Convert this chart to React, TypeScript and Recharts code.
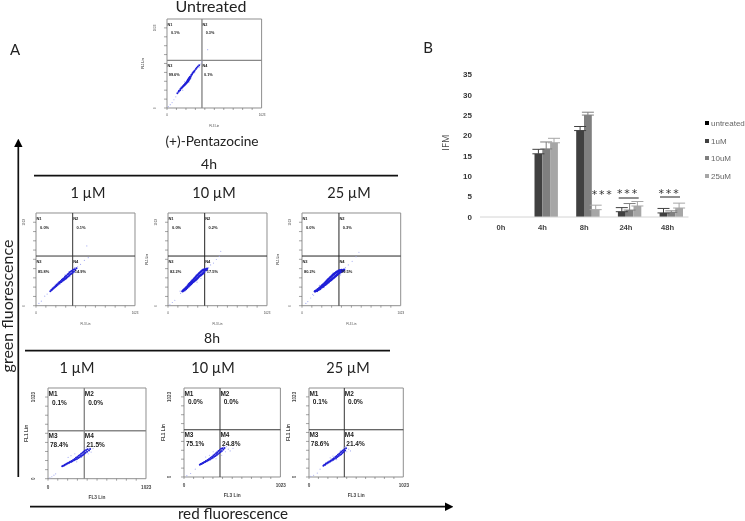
import React from "react";
import {
  BarChart, Bar, XAxis, YAxis, ErrorBar, Legend, ScatterChart, Scatter, ReferenceLine, ReferenceArea, ReferenceDot,
} from "recharts";

type Pt = [number, number];

// ---------- Panel B: bar chart ----------
const timeCategories = ["0h", "4h", "8h", "24h", "48h"];
const untreatedValues = [0, 0, 0, 0, 0];
const uM1Values = [0, 15.5, 21.2, 1.3, 1.0];
const uM10Values = [0, 16.7, 25.0, 1.7, 1.1];
const uM25Values = [0, 18.2, 1.8, 2.7, 2.2];
const uM1Errors = [0, 1.1, 1.0, 1.0, 1.1];
const uM10Errors = [0, 1.7, 0.7, 1.6, 0.4];
const uM25Errors = [0, 1.1, 1.1, 1.1, 1.2];
const yTicks = [0, 5, 10, 15, 20, 25, 30, 35];
const seriesNames = ["untreated", "1uM", "10uM", "25uM"];
const seriesColors = ["#000000", "#404040", "#7f7f7f", "#a6a6a6"];

const barData = timeCategories.map((t, i) => ({
  time: t,
  untreated: untreatedValues[i],
  uM1: uM1Values[i],
  uM10: uM10Values[i],
  uM25: uM25Values[i],
  e1: [0, uM1Errors[i]],
  e10: [0, uM10Errors[i]],
  e25: [0, uM25Errors[i]],
}));

// ---------- Panel A: flow cytometry dots (FL3, FL1) ----------
const untreatedCore: Pt[] = [[112,170],[125,186],[130,198],[142,205],[145,218],[155,226],[160,236],[168,238],[172,250],[180,252],[184,264],[190,262],[194,276],[200,272],[204,288],[210,284],[212,300],[218,296],[220,312],[228,306],[226,326],[236,318],[234,336],[244,330],[240,348],[250,345],[248,360],[258,362],[262,378],[270,384],[276,398],[284,410],[292,420],[300,432],[312,448],[322,462],[334,476],[348,492]];
const untreatedHalo: Pt[] = [[15,15],[35,38],[55,62],[75,95],[95,128],[150,240],[190,300],[170,205],[240,300],[260,345],[300,405],[350,470],[365,505],[375,530],[440,670]];

const h4u1Core: Pt[] = [[148,160],[158,172],[165,176],[172,188],[180,190],[188,202],[195,204],[202,218],[210,216],[216,232],[224,230],[230,246],[238,244],[242,260],[250,256],[256,272],[262,262],[268,286],[274,274],[280,298],[286,282],[292,306],[298,292],[300,318],[310,300],[312,330],[320,312],[326,344],[332,322],[336,352],[344,334],[346,368],[354,346],[360,376],[366,352],[372,386],[378,364],[384,396],[392,374],[398,402],[406,394],[418,414]];
const h4u1Halo: Pt[] = [[30,25],[55,50],[90,105],[115,128],[200,235],[250,240],[300,340],[350,320],[400,420],[430,430],[460,455],[500,500],[540,530],[525,660]];

const h4u10Core: Pt[] = [[150,160],[156,168],[166,178],[170,170],[178,190],[186,184],[190,204],[198,198],[204,220],[212,212],[216,236],[224,226],[228,250],[236,238],[240,264],[248,250],[252,278],[258,262],[264,290],[270,270],[274,304],[282,282],[286,316],[294,292],[296,330],[304,304],[308,342],[316,316],[320,356],[326,328],[332,366],[338,336],[342,378],[350,346],[354,388],[362,358],[366,396],[374,372],[382,402],[392,392],[404,408]];
const h4u10Halo: Pt[] = [[20,10],[45,35],[70,60],[130,135],[125,160],[210,250],[300,260],[340,300],[420,420],[440,450],[470,470],[500,510],[530,545],[545,600]];

const h4u25Core: Pt[] = [[135,158],[148,168],[156,164],[164,180],[172,176],[180,194],[188,186],[194,208],[202,200],[208,222],[216,210],[220,234],[228,222],[234,248],[242,232],[246,262],[254,242],[258,274],[266,254],[270,288],[278,264],[282,300],[290,276],[294,312],[302,284],[306,324],[314,296],[318,338],[326,306],[330,348],[338,318],[342,358],[350,328],[354,368],[362,338],[366,376],[374,350],[380,384],[388,362],[394,390],[404,372],[412,394],[424,384],[436,396]];
const h4u25Halo: Pt[] = [[40,25],[60,45],[90,85],[110,125],[120,115],[180,225],[230,200],[280,250],[320,360],[400,340],[450,420],[480,450],[520,490],[560,540],[590,590]];

const h8u1Core: Pt[] = [[148,140],[158,146],[168,150],[176,158],[186,160],[194,168],[204,170],[212,180],[222,180],[230,190],[240,188],[246,200],[256,198],[262,212],[272,208],[278,222],[288,216],[292,236],[302,222],[306,246],[316,232],[320,258],[330,242],[334,268],[344,252],[346,280],[356,262],[360,292],[368,270],[372,304],[380,282],[384,316],[392,294],[398,324],[408,304],[414,332],[428,318],[440,334]];
const h8u1Halo: Pt[] = [[20,10],[40,22],[62,40],[80,55],[210,240],[240,260],[280,280],[300,190],[350,240],[420,280],[450,300],[470,340],[430,360],[400,350]];

const h8u10Core: Pt[] = [[168,142],[178,150],[188,150],[196,162],[206,162],[214,172],[224,172],[232,184],[242,182],[250,194],[260,192],[266,208],[276,200],[282,220],[292,212],[298,232],[306,220],[312,246],[320,232],[326,260],[334,240],[340,274],[348,254],[352,284],[360,264],[366,298],[374,276],[380,310],[388,288],[394,324],[402,300],[408,330],[418,316],[430,334]];
const h8u10Halo: Pt[] = [[30,15],[70,40],[120,90],[230,230],[270,250],[310,290],[340,210],[400,250],[440,290],[470,320],[490,300],[450,350],[420,350],[520,330]];

const h8u25Core: Pt[] = [[156,130],[166,140],[176,142],[184,154],[194,154],[202,166],[212,166],[220,178],[230,178],[238,190],[248,190],[254,204],[264,198],[270,216],[280,210],[286,230],[294,218],[300,242],[308,230],[314,256],[322,240],[328,268],[336,252],[342,282],[350,262],[354,294],[362,276],[368,306],[376,288],[382,316],[392,304],[402,330]];
const h8u25Halo: Pt[] = [[20,8],[50,20],[90,45],[120,90],[230,220],[260,240],[300,200],[340,300],[410,290],[430,320],[450,300],[400,350],[380,340]];

const gridTicks = [0, 102, 205, 307, 409, 512, 614, 716, 818, 921];

const panels = [
  { box: [166.7, 19.3, 94.6, 89], qx: 378, qy: 547, qStroke: "#888888", qWidth: 1.4, fs: 3.8, r: 1.0, percents: ["0.1%", "0.3%", "99.6%", "0.1%"], core: untreatedCore, halo: untreatedHalo, names: ["N1", "N2", "N3", "N4"], ylab: 24, big: false },
  { box: [36, 213.3, 99, 92.7], qx: 379, qy: 548, qStroke: "#333333", qWidth: 1, fs: 4, r: 1.05, percents: ["0.0%", "0.1%", "85.8%", "14.9%"], core: h4u1Core, halo: h4u1Halo, names: ["N1", "N2", "N3", "N4"], ylab: 0, big: false },
  { box: [167.7, 213.3, 99, 92.7], qx: 379, qy: 548, qStroke: "#222222", qWidth: 1, fs: 4, r: 1.2, percents: ["0.0%", "0.2%", "82.2%", "17.5%"], core: h4u10Core, halo: h4u10Halo, names: ["N1", "N2", "N3", "N4"], ylab: 21, big: false },
  { box: [302.3, 213.3, 98.7, 92.7], qx: 383, qy: 548, qStroke: "#222222", qWidth: 1, fs: 4, r: 1.3, percents: ["0.0%", "0.3%", "80.2%", "19.5%"], core: h4u25Core, halo: h4u25Halo, names: ["N1", "N2", "N3", "N4"], ylab: 24, big: false },
  { box: [47.7, 388.3, 98, 90.7], qx: 379, qy: 541, qStroke: "#888888", qWidth: 1.4, fs: 6.5, r: 1.0, percents: ["0.1%", "0.0%", "78.4%", "21.5%"], core: h8u1Core, halo: h8u1Halo, names: ["M1", "M2", "M3", "M4"], ylab: 21, big: true },
  { box: [184.3, 388.3, 96.4, 89], qx: 382, qy: 543, qStroke: "#333333", qWidth: 1, fs: 6.5, r: 1.0, percents: ["0.0%", "0.0%", "75.1%", "24.8%"], core: h8u10Core, halo: h8u10Halo, names: ["M1", "M2", "M3", "M4"], ylab: 21, big: true },
  { box: [309, 388.3, 94.3, 89], qx: 383, qy: 543, qStroke: "#333333", qWidth: 1, fs: 6.5, r: 1.0, percents: ["0.1%", "0.0%", "78.6%", "21.4%"], core: h8u25Core, halo: h8u25Halo, names: ["M1", "M2", "M3", "M4"], ylab: 21, big: true },
];

const toRows = (pts: Pt[]) => pts.map(([x, y]) => ({ x, y }));

function FlowPanel({ p }: { p: (typeof panels)[number] }) {
  const [bx, by, bw, bh] = p.box;
  const ml = 30, mt = 4, mr = 6, mb = 26;
  const tickFs = p.big ? 4.6 : 3;
  const dotColor = "#1f1fd8";
  const haloColor = "#aab0f2";
  const xTick = (t: any) => {
    const v = t.payload.value;
    const label = v === 0 ? "0" : v === 921 ? "1023" : "";
    return (
      <text x={v === 921 ? t.x + 10 : t.x} y={t.y + (p.big ? 6 : 4)} fontSize={tickFs} fontWeight={p.big ? 700 : 400} textAnchor="middle" fontFamily="Liberation Sans" fill="#444">{label}</text>
    );
  };
  const yTick = (t: any) => {
    const v = t.payload.value;
    const label = v === 0 ? "0" : v === 921 ? "1023" : "";
    const tx = t.x - (p.big ? 8 : 6);
    return (
      <text x={tx} y={t.y} fontSize={tickFs} fontWeight={p.big ? 700 : 400} textAnchor="middle" fontFamily="Liberation Sans" fill="#444" transform={`rotate(-90 ${tx} ${t.y})`}>{label}</text>
    );
  };
  const labelStyle = { fontSize: p.fs, fontWeight: 700, fontFamily: "Liberation Sans", fill: "#222" };
  const spots: [number, number, string][] = [
    [5, 963, p.names[0]], [42, 861, p.percents[0]],
    [p.qx + 5, 963, p.names[1]], [p.qx + 40, 861, p.percents[1]],
    [5, 482, p.names[2]], [20, 380, p.percents[2]],
    [p.qx + 5, 482, p.names[3]], [p.qx + 22, 380, p.percents[3]],
  ];
  return (
    <div style={{ position: "absolute", left: bx - ml, top: by - mt }}>
      <ScatterChart width={bw + ml + mr} height={bh + mt + mb} margin={{ left: 0, top: mt, right: mr, bottom: 0 }}>
        <XAxis
          type="number" dataKey="x" domain={[0, 1023]} ticks={gridTicks} interval={0} height={mb}
          axisLine={false} tickLine={{ stroke: "#666", strokeWidth: 0.6 }} tickSize={2} tick={xTick}
          label={{ value: "FL3 Lin", position: "insideBottom", offset: p.big ? 6 : 7, style: { fontSize: p.big ? 4.8 : 3, fontWeight: p.big ? 700 : 400, fontFamily: "Liberation Sans", fill: "#444" } }}
        />
        <YAxis
          type="number" dataKey="y" domain={[0, 1023]} ticks={gridTicks} interval={0} width={ml}
          axisLine={false} tickLine={{ stroke: "#666", strokeWidth: 0.6 }} tickSize={3} tick={yTick}
        />
        <ReferenceArea x1={0} x2={1023} y1={0} y2={1023} fill="none" stroke="#8f8f8f" strokeWidth={1} />
        <Scatter data={toRows(p.halo)} isAnimationActive={false} shape={(d: any) => <circle cx={d.cx} cy={d.cy} r={0.6} fill={haloColor} />} />
        <Scatter data={toRows(p.core)} isAnimationActive={false} shape={(d: any) => <circle cx={d.cx} cy={d.cy} r={p.r} fill={dotColor} />} />
        <ReferenceLine x={p.qx} stroke={p.qStroke} strokeWidth={p.qWidth} />
        <ReferenceLine y={p.qy} stroke={p.qStroke} strokeWidth={p.qWidth} />
        {spots.map(([x, y, text]) => (
          <ReferenceDot key={text + x} x={x} y={y} r={0} stroke="none" fill="none" ifOverflow="visible"
            label={{ value: text, position: "right", offset: 0, style: labelStyle }} />
        ))}
      </ScatterChart>
      {p.ylab > 0 && (
        <svg width={ml} height={bh + mt} style={{ position: "absolute", left: 0, top: 0 }}>
          <text x={ml - p.ylab} y={mt + bh / 2} fontSize={p.big ? 4.8 : 3} fontWeight={700} fontFamily="Liberation Sans" fill="#444" textAnchor="middle" dominantBaseline="central" transform={`rotate(-90 ${ml - p.ylab} ${mt + bh / 2})`}>FL1 Lin</text>
        </svg>
      )}
    </div>
  );
}

const BarLegend = () => (
  <div style={{ fontFamily: "Liberation Sans", fontSize: 8, color: "#666" }}>
    {seriesNames.map((n, i) => (
      <div key={n} style={{ height: 17.6, lineHeight: "17.6px", whiteSpace: "nowrap", position: "relative", paddingLeft: 6 }}>
        <span style={{ position: "absolute", left: 0, top: 6, width: 4, height: 4, background: seriesColors[i] }} />
        {n}
      </div>
    ))}
  </div>
);

const titles: [string, number, number, number][] = [
  ["Untreated", 211, 12, 16],
  ["(+)-Pentazocine", 212, 146, 13.7],
  ["4h", 209, 169, 14],
  ["1 µM", 88, 198, 14.5],
  ["10 µM", 214, 198, 14.5],
  ["25 µM", 349, 198, 14.5],
  ["8h", 212, 343, 14],
  ["1 µM", 77, 373, 14.5],
  ["10 µM", 213, 373, 14.5],
  ["25 µM", 348, 373, 14.5],
  ["red fluorescence", 233, 519, 15.2],
];

const starMarks: [number, number][] = [[602.7, 198], [628, 197], [669.5, 197]];

export default function App() {
  return (
    <div style={{ position: "absolute", left: 0, top: 0, width: 745, height: 521, background: "#fff", overflow: "hidden", filter: "blur(0.35px)" }}>
      {panels.map((p, i) => <FlowPanel key={i} p={p} />)}

      <div style={{ position: "absolute", left: 420, top: 60 }}>
        <BarChart width={325} height={180} data={barData} barSize={7.8} barGap={0} margin={{ left: 0, top: 14.3, right: 11.5, bottom: 0 }}>
          <XAxis dataKey="time" height={23} axisLine={{ stroke: "#d4d4d4", strokeWidth: 1 }} tickLine={false}
            tick={{ fontSize: 7.6, fontWeight: 700, fontFamily: "Liberation Sans", fill: "#444" }} />
          <YAxis domain={[0, 35]} ticks={yTicks} width={60} axisLine={false} tickLine={false}
            tick={{ fontSize: 8, fontWeight: 700, fontFamily: "Liberation Sans", fill: "#333" }}
            label={{ value: "IFM", angle: -90, position: "insideLeft", offset: 26, dy: 5, style: { fontSize: 9.5, fontFamily: "Open Sans", fill: "#444" } }} />
          <Legend layout="vertical" align="right" verticalAlign="top" content={<BarLegend />}
            wrapperStyle={{ position: "absolute", left: 285, top: 55, width: 45 }} />
          <Bar dataKey="untreated" name={seriesNames[0]} fill={seriesColors[0]} isAnimationActive={false} />
          <Bar dataKey="uM1" name={seriesNames[1]} fill={seriesColors[1]} isAnimationActive={false}>
            <ErrorBar dataKey="e1" direction="y" width={6} stroke={seriesColors[1]} strokeWidth={1} isAnimationActive={false} />
          </Bar>
          <Bar dataKey="uM10" name={seriesNames[2]} fill={seriesColors[2]} isAnimationActive={false}>
            <ErrorBar dataKey="e10" direction="y" width={6} stroke={seriesColors[2]} strokeWidth={1} isAnimationActive={false} />
          </Bar>
          <Bar dataKey="uM25" name={seriesNames[3]} fill={seriesColors[3]} isAnimationActive={false}>
            <ErrorBar dataKey="e25" direction="y" width={6} stroke={seriesColors[3]} strokeWidth={1} isAnimationActive={false} />
          </Bar>
        </BarChart>
      </div>

      <svg width={745} height={521} style={{ position: "absolute", left: 0, top: 0, pointerEvents: "none" }}>
        <defs>
          <marker id="ah" markerWidth="5" markerHeight="5" refX="3" refY="2.5" orient="auto" markerUnits="strokeWidth">
            <path d="M0,0 L5,2.5 L0,5 Z" fill="#000" />
          </marker>
        </defs>
        {titles.map(([t, x, y, fs], i) => (
          <text key={i} x={x} y={y} fontSize={fs} textAnchor="middle" fontFamily="Lato" fill="#222">{t}</text>
        ))}
        <text x={15} y={55} fontSize={15} textAnchor="middle" fontFamily="Lato" fill="#222">A</text>
        <text x={428} y={53} fontSize={15} textAnchor="middle" fontFamily="Lato" fill="#222">B</text>
        <text x={0} y={0} fontSize={16} textAnchor="middle" fontFamily="Lato" fill="#222" transform="translate(13 306) rotate(-90)">green fluorescence</text>

        <line x1={34} y1={175.7} x2={398} y2={175.7} stroke="#111" strokeWidth={1.8} />
        <line x1={25} y1={350.7} x2={390} y2={350.7} stroke="#111" strokeWidth={1.8} />
        <line x1={18.3} y1={477} x2={18.3} y2={142} stroke="#111" strokeWidth={1.7} markerEnd="url(#ah)" />
        <line x1={30} y1={506.7} x2={450} y2={506.7} stroke="#111" strokeWidth={1.7} markerEnd="url(#ah)" />

        <line x1={618.7} y1={198} x2={638.7} y2={198} stroke="#222" strokeWidth={1} />
        <line x1={660} y1={197} x2={680} y2={197} stroke="#222" strokeWidth={1} />
        {starMarks.map(([x, y], i) => (
          <text key={i} x={x} y={y} fontSize={11} textAnchor="middle" letterSpacing={1.8} fontFamily="DejaVu Sans" fill="#333">***</text>
        ))}
      </svg>
    </div>
  );
}
